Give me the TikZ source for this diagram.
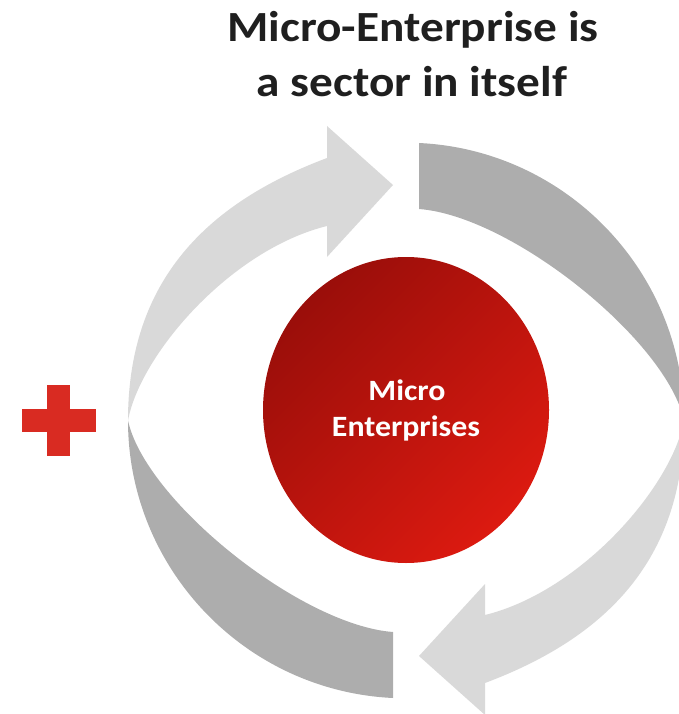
\documentclass[tikz,border=0pt]{standalone}
\usepackage{fontspec}
\setmainfont{Carlito}
\usetikzlibrary{shapes.geometric}
\definecolor{lightband}{HTML}{D9D9D9}
\definecolor{darkband}{HTML}{ADADAD}
\definecolor{plusred}{HTML}{D92B22}
\definecolor{coredark}{HTML}{9A0E0A}
\definecolor{corelight}{HTML}{DC1A10}
\begin{document}
\begin{tikzpicture}[x=1pt,y=-1pt,
  lightarrow/.style={fill=lightband},
  darkarrow/.style={fill=darkband},
  titletext/.style={font=\bfseries\fontsize{43}{50}\selectfont, text=black!88, inner sep=0pt, anchor=base},
  coretext/.style={font=\bfseries\fontsize{29.5}{34}\selectfont, text=white, inner sep=0pt, anchor=base},
  coreball/.style={ellipse, inner sep=0pt, outer sep=0pt, minimum width=286pt, minimum height=306pt,
    top color=coredark, bottom color=corelight, shading angle=45}]
\useasboundingbox (0,0) rectangle (679,714);
\clip (0,0) rectangle (679,714);
% dark bands
\path[darkarrow] (128,420.5) .. controls (128,568.5) and (245,691) .. (393,698)
  -- (393,632) .. controls (300,625) and (145,500) .. (128,420.5) -- cycle;
\begin{scope}[rotate around={180:(406,420.5)}]
\path[darkarrow] (128,420.5) .. controls (128,568.5) and (245,691) .. (393,698)
  -- (393,632) .. controls (300,625) and (145,500) .. (128,420.5) -- cycle;
\end{scope}
% light arrows
\path[lightarrow] (128,420.5) .. controls (128,280.5) and (207,203) .. (327,158)
  -- (327,126) -- (393,185) -- (327,257) -- (327,226)
  .. controls (230,250) and (140,355) .. (128,420.5) -- cycle;
\begin{scope}[rotate around={180:(406,420.5)}]
\path[lightarrow] (128,420.5) .. controls (128,280.5) and (207,203) .. (327,158)
  -- (327,126) -- (393,185) -- (327,257) -- (327,226)
  .. controls (230,250) and (140,355) .. (128,420.5) -- cycle;
\end{scope}
% core
\node[coreball] (core) at (406,410) {};
\node[coretext] (coreA) at (407,400) {\scalebox{1.08}[1]{Micro}};
\node[coretext] (coreB) at (406,436) {\scalebox{1.08}[1]{Enterprises}};
% plus
\fill[plusred] (22,409) rectangle (96,432);
\fill[plusred] (47,385) rectangle (70,456);
% title
\node[titletext] (title1) at (413,42) {\scalebox{1.1}[1]{Micro-Enterprise is}};
\node[titletext] (title2) at (412,97) {\scalebox{1.1}[1]{a sector in itself}};
\end{tikzpicture}
\end{document}
